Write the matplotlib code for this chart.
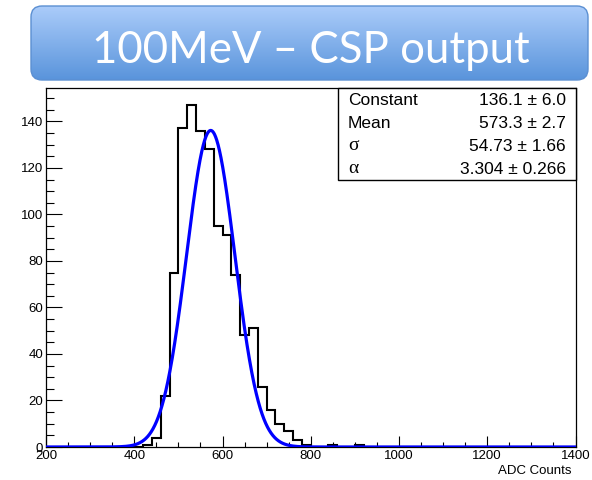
import numpy as np
import matplotlib
matplotlib.use("Agg")
import matplotlib.pyplot as plt
from matplotlib.patches import FancyBboxPatch, Rectangle
from matplotlib.ticker import MultipleLocator

# ---------------- data ----------------
title = "100MeV \u2013 CSP output"
x_label = "ADC Counts"
bin_width = 20
first_bin_low = 420
counts = [1, 4, 22, 75, 137, 147, 136, 128, 95, 91, 74, 48, 51, 26, 16, 10, 7, 3, 1,
          0, 0, 1, 0, 0, 1]
x_range = (200, 1400)

fit_constant = 136.1
fit_mean = 573.3
fit_sigma = 54.73
fit_alpha = 3.304
stat_labels = ["Constant", "Mean", "\u03c3", "\u03b1"]
stat_values = ["136.1 \u00b1 6.0", "573.3 \u00b1 2.7", "54.73 \u00b1 1.66", "3.304 \u00b1 0.266"]

# ---------------- histogram over full range ----------------
edges = np.arange(x_range[0], x_range[1] + bin_width, bin_width)
full = np.zeros(len(edges) - 1)
i0 = (first_bin_low - x_range[0]) // bin_width
full[i0:i0 + len(counts)] = counts

# fit function (gaussian core with exponential low-side tail)
xf = np.linspace(x_range[0], x_range[1], 2401)
t = (xf - fit_mean) / fit_sigma
yf = np.where(t > -fit_alpha,
              fit_constant * np.exp(-0.5 * t ** 2),
              fit_constant * np.exp(0.5 * fit_alpha ** 2 + fit_alpha * t))

W, H = 592, 480
fig = plt.figure(figsize=(W / 100, H / 100), dpi=100)
fig.patch.set_facecolor("white")

L, R, T, B = 46, 575.5, 88, 447
ax = fig.add_axes([L / W, (H - B) / H, (R - L) / W, (B - T) / H])
ax.stairs(full, edges, color="black", linewidth=1.5, zorder=2)
ax.plot(xf, yf, color="#0000ff", linewidth=2.3, zorder=3)
ax.set_xlim(*x_range)
ax.set_ylim(0, 1.05 * max(counts))

ax.xaxis.set_major_locator(MultipleLocator(200))
ax.xaxis.set_minor_locator(MultipleLocator(50))
ax.yaxis.set_major_locator(MultipleLocator(20))
ax.yaxis.set_minor_locator(MultipleLocator(5))
ax.tick_params(axis="x", which="major", direction="in", length=7.8, width=0.8, pad=2)
ax.tick_params(axis="x", which="minor", direction="in", length=3.9, width=0.8)
ax.tick_params(axis="y", which="major", direction="in", length=11.5, width=0.8, pad=2)
ax.tick_params(axis="y", which="minor", direction="in", length=5.8, width=0.8)
for lab in ax.get_xticklabels() + ax.get_yticklabels():
    lab.set_fontfamily("Liberation Sans")
    lab.set_fontsize(9.5)
for s in ax.spines.values():
    s.set_linewidth(0.9)

# ---------------- overlay in pixel coordinates ----------------
ov = fig.add_axes([0, 0, 1, 1])
ov.set_xlim(0, W)
ov.set_ylim(H, 0)
ov.axis("off")
ov.patch.set_visible(False)

# x label
ov.text(571, 471, x_label, ha="right", va="center", fontfamily="Liberation Sans",
        fontsize=9.5, color="black")

# stats box
bx0, bx1, by0, by1 = 338, R, T, 180
ov.add_patch(Rectangle((bx0, by0), bx1 - bx0, by1 - by0, facecolor="white",
                       edgecolor="black", linewidth=1.0, zorder=5))
row_h = (by1 - by0) / len(stat_labels)
for k, (lab, val) in enumerate(zip(stat_labels, stat_values)):
    yc = by0 + row_h * (k + 0.5) + 1
    if k < 2:
        ov.text(348, yc, lab, ha="left", va="center", fontfamily="Liberation Sans",
                fontsize=12.5, zorder=6)
    else:
        ov.text(348, yc - 1, lab, ha="left", va="center", fontfamily="Liberation Serif",
                fontsize=14, zorder=6)
    ov.text(566, yc, val, ha="right", va="center", fontfamily="Liberation Sans",
            fontsize=12.5, zorder=6)

# title banner with gradient
tx0, tx1, ty0, ty1 = 31, 588, 6, 80
banner = FancyBboxPatch((tx0, ty0), tx1 - tx0, ty1 - ty0,
                        boxstyle="round,pad=0,rounding_size=11",
                        facecolor="none", edgecolor="#5b8fd2", linewidth=1.0, zorder=3)
ov.add_patch(banner)
top_c = np.array([0.67, 0.80, 0.98])
bot_c = np.array([0.35, 0.58, 0.86])
g = np.linspace(0, 1, 256)[:, None]
grad = (top_c[None, None, :] * (1 - g[:, :, None]) + bot_c[None, None, :] * g[:, :, None])
grad = np.repeat(grad, 2, axis=1)
im = ov.imshow(grad, extent=(tx0, tx1, ty1, ty0), aspect="auto", zorder=2,
               interpolation="bilinear")
im.set_clip_path(banner)
ov.set_xlim(0, W)
ov.set_ylim(H, 0)
ov.text((93 + 528) / 2, 63, title, ha="center", va="baseline", color="white",
        fontfamily="Lato", fontsize=31.5, zorder=4)

fig.savefig("out.png", dpi=100)
